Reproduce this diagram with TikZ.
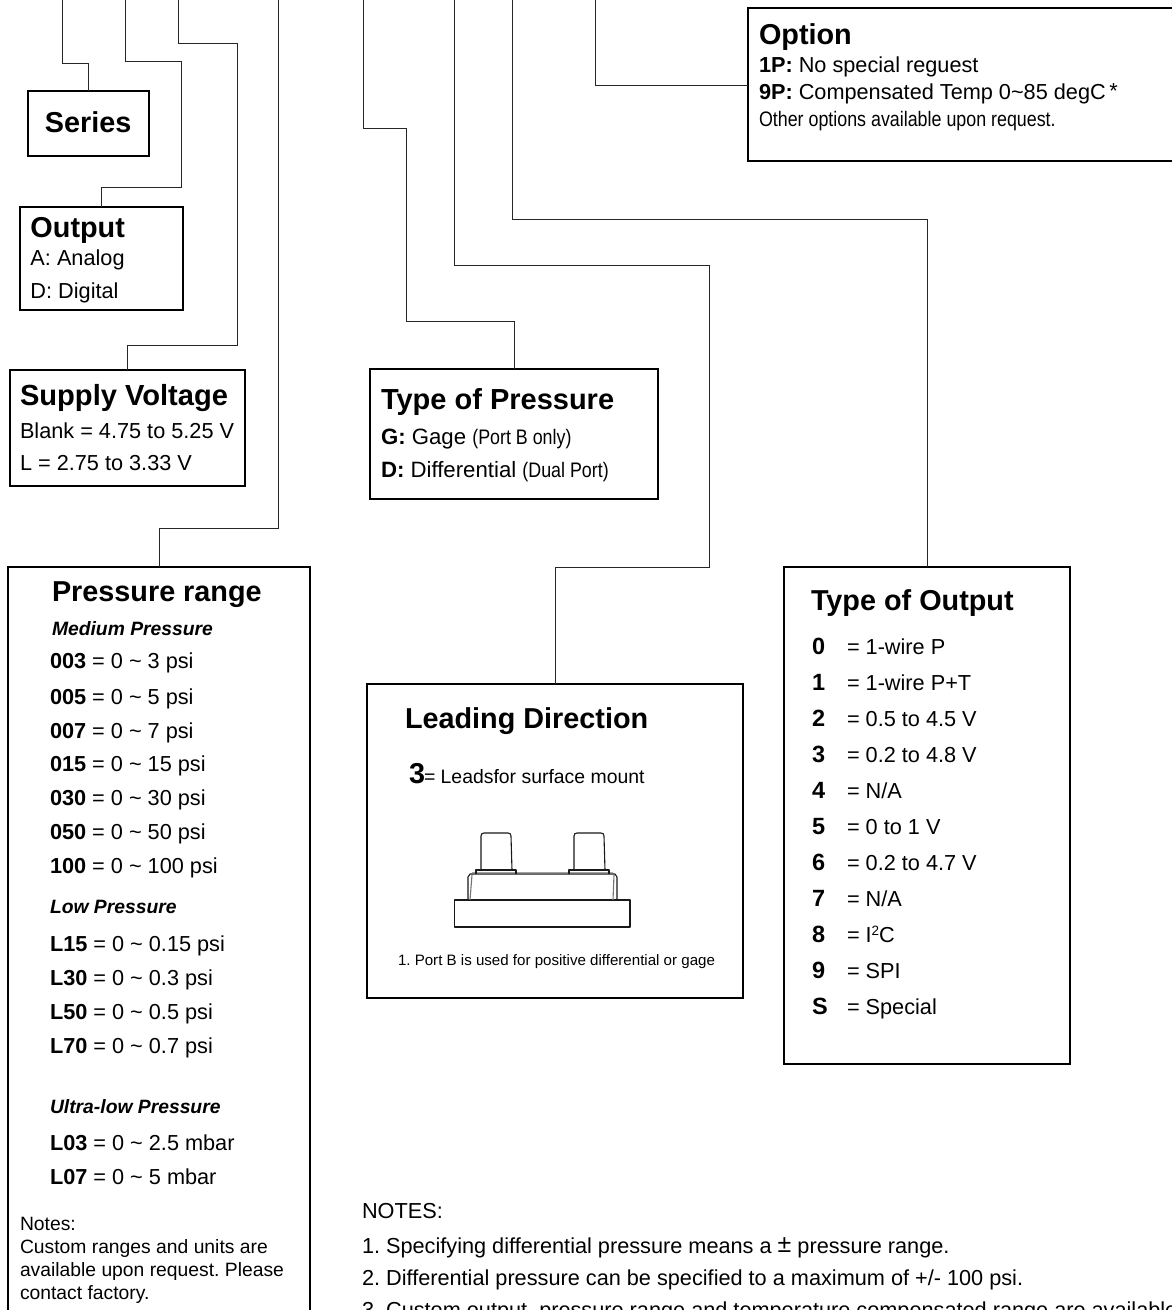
\documentclass[tikz,border=0pt]{standalone}
\usepackage{fontspec}
\usepackage{graphicx}
\setmainfont{Liberation Sans}
\frenchspacing
\newcounter{txc}
\tikzset{
  box/.style={draw=black,line width=1.2pt,fill=white,anchor=north west,inner sep=0pt,outer sep=0pt},
  wire/.style={draw=black!85,line width=1pt,line join=miter},
  lab/.style={anchor=base west,inner sep=0pt,outer sep=0pt,text=black},
  part/.style={draw=black!90,line width=1.1pt,line join=round}
}
\newcommand{\fs}[1]{\fontsize{#1}{#1}\selectfont}
\newcommand{\tx}[4]{\stepcounter{txc}\node[lab] (t\arabic{txc}) at (#1,#2) {\fs{#3}#4};}
\newcommand{\tit}[3]{\tx{#1}{#2}{28.8}{\bfseries #3}}
\newcommand{\bd}[3]{\tx{#1}{#2}{21.7}{#3}}
\newcommand{\nar}[1]{\scalebox{0.85}[1]{#1}}
\newcommand{\mybox}[5]{\node[box,minimum width=#4-#2,minimum height=#5-#3] (#1) at (#2,#3) {};}
\begin{document}
\begin{tikzpicture}[x=1pt,y=-1pt]
\useasboundingbox (0,0) rectangle (1172,1310);
% free ends at the top edge
\coordinate (a) at (62.7,0);
\coordinate (b) at (125.7,0);
\coordinate (c) at (178,0);
\coordinate (d) at (278.7,0);
\coordinate (e) at (363.7,0);
\coordinate (f) at (454.7,0);
\coordinate (g) at (512.7,0);
\coordinate (h) at (595.7,0);
% boxes
\mybox{series}{28}{91}{149}{156}
\mybox{output}{20}{207}{183}{310}
\mybox{supply}{10}{370}{245}{486}
\mybox{prange}{8}{567}{310}{1340}
\mybox{ptype}{370}{369}{658}{499}
\mybox{lead}{367}{684}{743}{998}
\mybox{otype}{784}{567}{1070}{1064}
\mybox{option}{748}{8}{1190}{161}
% connectors
\draw[wire] (a) |- (series.north |- 0,63) -- (series.north);
\draw[wire] (b) |- (181,61) |- (output.north |- 0,187) -- (output.north);
\draw[wire] (c) |- (237,43) |- (supply.north |- 0,345) -- (supply.north);
\draw[wire] (d) |- (prange.north |- 0,528) -- (prange.north);
\draw[wire] (e) |- (406.7,128) |- (ptype.north |- 0,321) -- (ptype.north);
\draw[wire] (f) |- (709,265) |- (lead.north |- 0,567) -- (lead.north);
\draw[wire] (g) |- (927,219) -- (otype.north);
\draw[wire] (h) |- (option.west |- 596,85);
% texts
\tit{45}{132}{Series}
\tit{30.5}{237}{Output}
\bd{30.5}{265}{A: Analog}
\bd{30.5}{298}{D: Digital}
\tx{20}{405}{29.1}{\bfseries Supply Voltage}
\bd{20}{438}{Blank = 4.75 to 5.25 V}
\bd{20}{470}{L = 2.75 to 3.33 V}
\tit{52}{601}{Pressure range}
\tx{52}{635}{19.3}{\bfseries\itshape Medium Pressure}
\bd{50}{668}{\textbf{003} = 0 \textasciitilde{} 3 psi}
\bd{50}{704}{\textbf{005} = 0 \textasciitilde{} 5 psi}
\bd{50}{738}{\textbf{007} = 0 \textasciitilde{} 7 psi}
\bd{50}{771}{\textbf{015} = 0 \textasciitilde{} 15 psi}
\bd{50}{805}{\textbf{030} = 0 \textasciitilde{} 30 psi}
\bd{50}{839}{\textbf{050} = 0 \textasciitilde{} 50 psi}
\bd{50}{873}{\textbf{100} = 0 \textasciitilde{} 100 psi}
\tx{50}{913}{19.3}{\bfseries\itshape Low Pressure}
\bd{50}{951}{\textbf{L15} = 0 \textasciitilde{} 0.15 psi}
\bd{50}{985}{\textbf{L30} = 0 \textasciitilde{} 0.3 psi}
\bd{50}{1019}{\textbf{L50} = 0 \textasciitilde{} 0.5 psi}
\bd{50}{1053}{\textbf{L70} = 0 \textasciitilde{} 0.7 psi}
\tx{50}{1113}{19.3}{\bfseries\itshape Ultra-low Pressure}
\bd{50}{1150}{\textbf{L03} = 0 \textasciitilde{} 2.5 mbar}
\bd{50}{1184}{\textbf{L07} = 0 \textasciitilde{} 5 mbar}
\tx{20}{1230}{19.3}{Notes:}
\tx{20}{1253}{19.3}{Custom ranges and units are}
\tx{20}{1276}{19.3}{available upon request. Please}
\tx{20}{1299}{19.3}{contact factory.}
\tx{381}{409}{29}{\bfseries Type of Pressure}
\tx{381}{444}{22.2}{\textbf{G:} Gage {\fs{21}\nar{(Port B only)}}}
\tx{381}{477}{22.2}{\textbf{D:} Differential {\fs{21}\nar{(Dual Port)}}}
\tit{405}{728}{Leading Direction}
\tx{409}{783}{28.8}{\bfseries 3}
\tx{424}{783}{19.4}{= Leadsfor surface mount}
\tx{398}{965}{15.1}{1. Port B is used for positive differential or gage}
\tit{811}{610}{Type of Output}
\tx{812}{654}{23.5}{\textbf{0}}\bd{847}{654}{= 1-wire P}
\tx{812}{690}{23.5}{\textbf{1}}\bd{847}{690}{= 1-wire P+T}
\tx{812}{726}{23.5}{\textbf{2}}\bd{847}{726}{= 0.5 to 4.5 V}
\tx{812}{762}{23.5}{\textbf{3}}\bd{847}{762}{= 0.2 to 4.8 V}
\tx{812}{798}{23.5}{\textbf{4}}\bd{847}{798}{= N/A}
\tx{812}{834}{23.5}{\textbf{5}}\bd{847}{834}{= 0 to 1 V}
\tx{812}{870}{23.5}{\textbf{6}}\bd{847}{870}{= 0.2 to 4.7 V}
\tx{812}{906}{23.5}{\textbf{7}}\bd{847}{906}{= N/A}
\tx{812}{942}{23.5}{\textbf{8}}\bd{847}{942}{= I\raisebox{7pt}{\fs{13.5}2}C}
\tx{812}{978}{23.5}{\textbf{9}}\bd{847}{978}{= SPI}
\tx{812}{1014}{23.5}{\textbf{S}}\bd{847}{1014}{= Special}
\tit{759}{44}{Option}
\bd{759}{72}{\textbf{1P:} No special reguest}
\bd{759}{99}{\textbf{9P:} Compensated Temp 0\textasciitilde85 degC\,\raisebox{1pt}{*}}
\tx{759}{126}{21}{\nar{Other options available upon request.}}
\tx{362}{1218}{21.7}{NOTES:}
\tx{362}{1253}{21.7}{1. Specifying differential pressure means a \raisebox{1pt}{\fs{25}±} pressure range.}
\tx{362}{1285}{21.7}{2. Differential pressure can be specified to a maximum of +/- 100 psi.}
\tx{362}{1317}{21.7}{3. Custom output, pressure range and temperature compensated range are available}
% sensor drawing
\draw[part,line width=1.2pt] (454.5,900) rectangle (630,927);
\draw[part] (468,900) -- (468,877) -- (470,874) -- (615,874) -- (617,877) -- (617,900);
\draw[part,black!55] (470,900) -- (472,875) (613,900) -- (614,875) (472,873) -- (613,873);
\draw[part] (476,874) -- (476,870) -- (516,870) -- (516,874);
\draw[part] (569,874) -- (569,870) -- (609,870) -- (609,874);
\draw[part] (481,870) -- (481,836) .. controls (481,834) and (482,833) .. (484,833) -- (508,833) .. controls (510,833) and (511,834) .. (511,836) -- (512,870);
\draw[part] (574,870) -- (574,836) .. controls (574,834) and (575,833) .. (577,833) -- (601,833) .. controls (603,833) and (604,834) .. (604,836) -- (605,870);
\end{tikzpicture}
\end{document}
